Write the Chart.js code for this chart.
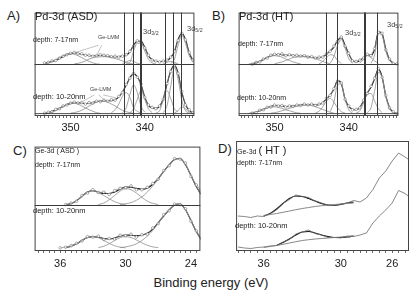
<!DOCTYPE html>
<html>
<head>
<meta charset="utf-8">
<script src="https://cdn.jsdelivr.net/npm/chart.js@4.4.0/dist/chart.umd.min.js"></script>
<style>
  html, body { margin: 0; padding: 0; background: #fff; }
  body { position: relative; width: 415px; height: 294px; overflow: hidden;
         font-family: "Liberation Sans", Arial, sans-serif; color: #222; }
  canvas { position: absolute; }
  .t { position: absolute; line-height: 1; white-space: nowrap; }
  .t sub { font-size: 0.7em; vertical-align: -0.25em; line-height: 0; }
</style>
</head>
<body>
<canvas id="pa" width="169" height="130" style="left:30px;top:8px"></canvas>
<canvas id="pb" width="169" height="130" style="left:234px;top:8px"></canvas>
<canvas id="pc" width="175" height="131" style="left:30px;top:142px"></canvas>
<canvas id="pd" width="175" height="132" style="left:234px;top:141px"></canvas>

<div class="t" style="left:7px;top:9px;font-size:13px">A)</div>
<div class="t" style="left:212px;top:9px;font-size:13px">B)</div>
<div class="t" style="left:13px;top:144px;font-size:13px">C)</div>
<div class="t" style="left:218px;top:142px;font-size:13px">D)</div>

<div class="t" style="left:35px;top:11px;font-size:11px">Pd-3d (ASD)</div>
<div class="t" style="left:33px;top:36px;font-size:7px">depth: 7-17nm</div>
<div class="t" style="left:33px;top:93px;font-size:7.5px">depth: 10-20nm</div>
<div class="t" style="left:143px;top:28px;font-size:7.5px;color:#444">3d<sub>3/2</sub></div>
<div class="t" style="left:187px;top:25px;font-size:7.5px;color:#444">3d<sub>5/2</sub></div>
<div class="t" style="left:98px;top:35px;font-size:5.5px;color:#444">Ge-LMM</div>
<div class="t" style="left:90px;top:87px;font-size:5.5px;color:#444">Ge-LMM</div>

<div class="t" style="left:239px;top:11px;font-size:11px">Pd-3d (HT)</div>
<div class="t" style="left:238px;top:40px;font-size:7px">depth: 7-17nm</div>
<div class="t" style="left:237px;top:94px;font-size:7px">depth: 10-20nm</div>
<div class="t" style="left:345px;top:29px;font-size:7.5px;color:#444">3d<sub>3/2</sub></div>
<div class="t" style="left:387px;top:21px;font-size:7.5px;color:#444">3d<sub>5/2</sub></div>

<div class="t" style="left:35px;top:147px;font-size:7px">Ge-3d ( ASD )</div>
<div class="t" style="left:35px;top:161px;font-size:7px">depth: 7-17nm</div>
<div class="t" style="left:33px;top:207px;font-size:7.5px">depth: 10-20nm</div>

<div class="t" style="left:237px;top:145px;font-size:7px">Ge-3d <span style="font-size:11px">( HT )</span></div>
<div class="t" style="left:237px;top:159px;font-size:7px">depth: 7-17nm</div>
<div class="t" style="left:235px;top:222px;font-size:7.5px">depth: 10-20nm</div>

<div class="t" style="left:0;width:422px;text-align:center;top:276px;font-size:13px">Binding energy (eV)</div>

<script>
// every series is [first energy in eV, values every 0.5 eV towards lower energy]
const STEP = 0.5;

const PD_RANGE = [333.3, 354.85];
const GE_ASD_RANGE = [23.13, 38.35];
const GE_HT_RANGE = [24.69, 38.15];

const PD_TICK_LABELS = [350, 340];
const GE_ASD_TICK_LABELS = [36, 30, 24];
const GE_HT_TICK_LABELS = [36, 30, 26];

// reference lines (eV, line width)
const A_LINES = [[342.75, 1], [341.55, 1], [340.5, 2], [337.2, 1], [336.15, 1], [335.1, 1]];
const B_LINES = [[343.0, 1], [341.45, 1], [337.75, 2], [336.1, 1]];

// ---- A) Pd-3d (ASD)
const A_TOP_DATA = [353.5, [1.5,2,3.5,4,6.5,8.5,10,11.5,12.5,11,11,9.5,9.5,8.5,9,10,9.5,9,8,8.5,7.5,8.5,10,13.5,19,24.5,23.5,17,9.5,4.5,3.5,2.5,3.5,4.5,7.5,13.5,25,32.5,25.5,12.5,4.5]];
const A_TOP_FIT = [353.5, [1,2,3,4,6,8,10,11,12,11.5,10.5,9.5,9,9,9,9.5,9,8.5,8,8,8,8.5,9.5,13,20,24,24,18,9,5,3,3,3,4,7,13,26,32,26,12,4]];
const A_TOP_PARTS = [
  [353.5, [0.5,1.5,3,5,7,9,10.5,11,10.5,9,7,5,3,1.5,0.5,0]],
  [349.5, [0.5,1,2,3.5,5.5,6.8,7.6,7.8,8,7.8,7,6,5,3.5,2,1,0.3]],
  [343, [0.5,2.5,4,3,1,0.3]],
  [342.5, [0.5,2,14,22,22,14,5,1.5,0.3]],
  [337.5, [0.5,2,3,2,0.5]],
  [336.5, [1,5,20,30,22,9,2]],
];
const A_BOT_DATA = [353.5, [0.5,1.5,2,4.5,5,8,9,11,12,11,11.5,10,11.5,11,13,12.5,14,13,14.5,14,18,22,30.5,37,42,38,31,17,9,6.5,5,8,15,31.5,44,51,42,23,9,4,1]];
const A_BOT_FIT = [353.5, [0,1,2.5,4,5.5,7.5,9.5,10.5,11.5,11.5,11,10.5,11,11.5,12.5,13,13.5,13.5,13.5,14.5,17.5,22.5,29.5,37.5,41.5,38.5,30.5,17.5,8.5,6,5.5,7.5,15.5,30.5,44.5,50.5,42.5,22.5,9.5,3.5,0.5]];
const A_BOT_PARTS = [
  [353, [0.5,1.5,3,5,7.5,9.5,11,11,10,8,6,4,2.5,1,0.3]],
  [350, [0.5,1,2,3.5,5.5,8,10,12,13,13,12,10,8,5.5,3.5,2,1,0.3]],
  [344.5, [1,4,10,18,22,17,6,2.5,0.5]],
  [343, [1,6,20,30,22,8,1.5]],
  [342, [1,5,15,24,15,5,1]],
  [338.5, [0.5,3,14,24,16,5,2]],
  [337.5, [1,8,28,48,36,14,3,0.5]],
  [336, [0.5,3,7,5,1.5,0.3]],
];
// Ge-LMM leader lines: [eV, value] -> [eV, value]
const A_TOP_LMM = [[[346.2, 74], [349.5, 66]], [[345.8, 74], [346.5, 63]]];
const A_BOT_LMM = [[[346.8, 22], [349.1, 12]], [[346.2, 22], [345.3, 16]], [[345.6, 22], [343.9, 19]]];

// ---- B) Pd-3d (HT)
const B_TOP_DATA = [353, [0,2,2.5,5.5,6.5,9.5,10.5,10,11,9,10,9,9.5,8.5,9,7.5,8,6.5,7.5,7.5,11,13.5,19,24,28.5,19,11.5,3.5,3,4.5,6.5,10.5,9,16.5,33.5,32.5,15,5.5,1,0.5]];
const B_TOP_FIT = [353, [0.5,1.5,3,5,7,9,10,10.5,10,9.5,9.5,9.5,9,9,8.5,8,7.5,7,7,8,10.5,14,18,25,28,20,11,4,2.5,4,7,10,9.5,16,34,32,16,5,1.5,0.5]];
const B_TOP_PARTS = [
  [353.5, [0.3,1,2,3.5,5.5,7.5,8.5,9,8.5,7.5,5.5,4,2.5,1.3,0.5]],
  [350, [0.5,1.5,2.5,4,5.5,7,7.5,8,8,7.5,7,6,4.5,3,1.5,0.5]],
  [344, [0.5,3,7,10,9,4,1]],
  [342.5, [1,8,20,26,17,6,1]],
  [338.5, [1,5,9,7,3.5,1]],
  [337, [1,10,32,30,14,4,0.5]],
];
const B_BOT_DATA = [353, [0.5,1,3.5,4,6.5,7,9,8,8.5,7,8,7.5,9,8.5,10,9,10,8.5,10,11,16,19,26,34,32,15,8,4,4.5,6,14,21,28.5,37,47,38,19,6,2,0]];
const B_BOT_FIT = [353, [0,1.5,3,4.5,6,7.5,8.5,8.5,8,7.5,7.5,8,8.5,9,9.5,9.5,9.5,9,9.5,11.5,15.5,19.5,25.5,34.5,31.5,15.5,7.5,4.5,4,6.5,13.5,21.5,27.5,36.5,46.5,38.5,18.5,6.5,1.5,0]];
const B_BOT_PARTS = [
  [353.5, [0.3,1,2,3,4.5,6,7,7,6.5,5.5,4,3,1.8,0.8,0.3]],
  [350.5, [0.5,1,1.8,3,4.2,5.5,6.8,7.6,8.3,8.7,8.7,8.3,7.2,5.8,4.3,2.8,1.4,0.5]],
  [344.5, [0.5,2.5,7,13,16,12,6,2,0.5]],
  [342.5, [2,12,30,31,15,4,0.5]],
  [339, [0.5,3,11,20,21,13,5,1]],
  [337.5, [1,6,24,43,38,18,5,1]],
];

// ---- C) Ge-3d (ASD)
const C_TOP_DATA = [35.5, [0.5,2,4,10,12.5,16,13,13.5,11,15,17.5,18,20,16,16,18.5,22.5,27,36,41,48.5,48,44,30,21,14]];
const C_TOP_FIT = [35.5, [0.3,1.5,4.5,9,13.5,15,13.5,12,12,13.5,16.5,18.8,18.5,17.5,16.5,17.5,21.7,27.6,35,42,47.5,48.5,42,31,19,10]];
const C_TOP_PARTS = [
  [35.5, [0.3,1.5,4.5,9,13.5,15,13,10,6.5,3.5,1.5,0.5]],
  [32.5, [0.5,2,5.5,10,14.5,17,16,12.5,8,4,1.7,0.6]],
  [30.5, [0.5,1.3,2.5,5,8.5,13.5,20,27,35,42,47.5,48.5,42,31,19,10]],
];
const C_BOT_DATA = [36, [0.3,1,2.5,5,7.5,12,11.5,12.5,9,10,9.5,13.5,13,14.5,11.5,14,14.5,21,25.5,35,39,46,45.5,41,28,18,9]];
const C_BOT_FIT = [35.5, [0.5,2,4.5,8,11,12,11.5,10,9.5,10.5,12.5,13.6,13.5,13,13.5,15.5,19.8,26.5,33.5,40,45,46,40,29,17,8]];
const C_BOT_PARTS = [
  [35.5, [0.5,2,4.5,8,11,12,11,8,5,2.5,1,0.3]],
  [32.5, [0.5,2,4.5,8,11,12,11,8.5,5.5,3,1.3,0.5]],
  [30.5, [0.5,1.3,2.5,4.5,8,12.5,18.5,26,33.5,40,45,46,40,29,17,8]],
];

// ---- D) Ge-3d (HT)
const D_TOP_DATA = [38, [34.5,34,33,34.5,34,37,40.5,47,51,55.5,54,53,49.5,47.5,45,45,46.5,47.5,50,48.5,52.5,61,72.5,79.5,89.5,97.5,93.5,89]];
const D_TOP_FIT = [36, [34.5,37,41.5,47,52,54.5,54,52,49.5,47,45.5,45,46,47.5,48.5]];
const D_TOP_BG = [36, [35,36,37,38.2,39.5,40.8,42,43,44,44.8,45.5,46,46.5,47,47.5]];
const D_BOT_DATA = [38, [3.5,2.5,2,3,3.5,4.5,5,8.5,11,16.5,18.5,20.5,17,15.5,13,13,12.5,14.5,14,15.5,17.5,27.5,34.5,40.5,47.5,60,57,52]];
const D_BOT_FIT = [35, [5,8,11.5,15.5,18.5,19,17.5,15.5,14,13,13,13.5,14.5]];
const D_BOT_BG = [36, [3,4,5,6.2,7.5,8.8,10,10.8,11.5,12,12.5,13,13.5,14,14.5]];

// ---------------------------------------------------------------------------

const STYLE = {
  part: { borderColor: '#8e8e8e', borderWidth: 0.8, pointRadius: 0, cubicInterpolationMode: 'monotone' },
  data: { borderColor: '#858585', borderWidth: 0.7, pointRadius: 1.3, pointBorderWidth: 0.6,
          pointBorderColor: '#777', pointBackgroundColor: '#fff', tension: 0 },
  fit:  { borderColor: '#111', borderWidth: 1.1, pointRadius: 0, cubicInterpolationMode: 'monotone' },
  raw:  { borderColor: '#6a6a6a', borderWidth: 0.8, pointRadius: 0, tension: 0 },
  bg:   { borderColor: '#7a7a7a', borderWidth: 0.9, pointRadius: 0, cubicInterpolationMode: 'monotone' },
  base: { borderColor: '#222', borderWidth: 0.8, pointRadius: 0, tension: 0 },
};

function pts([start, vals], offset) {
  return vals.map((v, i) => ({ x: start - i * STEP, y: v + offset }));
}

function spectrum(parts, data, fit, offset) {
  const sets = parts.map(p => ({ data: pts(p, offset), ...STYLE.part }));
  sets.push({ data: pts(data, offset), ...STYLE.data });
  sets.push({ data: pts(fit, offset), ...STYLE.fit });
  return sets;
}

function baseline(range, offset) {
  return { data: [{ x: range[1], y: offset }, { x: range[0], y: offset }], ...STYLE.base };
}

// frame, divider, reference lines and leader lines
const panelDeco = {
  id: 'panelDeco',
  afterDatasetsDraw(chart, args, opts) {
    const { ctx, chartArea: a, scales: { x, y } } = chart;
    ctx.save();
    ctx.strokeStyle = '#3a3a3a';
    (opts.lines || []).forEach(([e, w]) => {
      const px = w > 1 ? Math.round(x.getPixelForValue(e)) : Math.floor(x.getPixelForValue(e)) + 0.5;
      ctx.lineWidth = w;
      ctx.beginPath(); ctx.moveTo(px, a.top); ctx.lineTo(px, a.bottom); ctx.stroke();
    });
    if (opts.divider != null) {
      const py = Math.floor(y.getPixelForValue(opts.divider)) + 0.5;
      ctx.lineWidth = 1;
      ctx.beginPath(); ctx.moveTo(a.left, py); ctx.lineTo(a.right, py); ctx.stroke();
    }
    ctx.strokeStyle = '#9a9a9a';
    ctx.lineWidth = 0.6;
    (opts.leaders || []).forEach(([p, q]) => {
      ctx.beginPath();
      ctx.moveTo(x.getPixelForValue(p[0]), y.getPixelForValue(p[1]));
      ctx.lineTo(x.getPixelForValue(q[0]), y.getPixelForValue(q[1]));
      ctx.stroke();
    });
    ctx.strokeStyle = '#444';
    ctx.lineWidth = 1;
    ctx.strokeRect(a.left + 0.5, a.top + 0.5, a.width - 1, a.height - 1);
    ctx.restore();
  }
};

function makePanel(id, range, ymax, labels, pad, datasets, deco) {
  return new Chart(document.getElementById(id), {
    type: 'line',
    data: { datasets },
    plugins: [panelDeco],
    options: {
      responsive: false,
      animation: false,
      devicePixelRatio: 1,
      layout: { padding: 0 },
      plugins: { legend: { display: false }, tooltip: { enabled: false }, panelDeco: deco },
      scales: {
        x: {
          type: 'linear', reverse: true, min: range[0], max: range[1],
          afterFit: s => { s.height = 22; },
          border: { display: false },
          grid: { drawOnChartArea: false, tickLength: 2, color: '#444', lineWidth: 0.8 },
          ticks: {
            stepSize: 0.5, autoSkip: false, maxRotation: 0, includeBounds: false, padding: pad,
            color: '#222', font: { family: 'Liberation Sans', size: 11 },
            callback: v => labels.some(l => Math.abs(l - v) < 1e-6) ? String(Math.round(v)) : ''
          }
        },
        y: { display: false, min: 0, max: ymax }
      }
    }
  });
}

makePanel('pa', PD_RANGE, 108, PD_TICK_LABELS, 3, [
  baseline(PD_RANGE, 2.5),
  ...spectrum(A_BOT_PARTS, A_BOT_DATA, A_BOT_FIT, 2.5),
  ...spectrum(A_TOP_PARTS, A_TOP_DATA, A_TOP_FIT, 54),
], { lines: A_LINES, divider: 53.5, leaders: [...A_TOP_LMM, ...A_BOT_LMM] });

makePanel('pb', PD_RANGE, 108, PD_TICK_LABELS, 3, [
  baseline(PD_RANGE, 2.5),
  ...spectrum(B_BOT_PARTS, B_BOT_DATA, B_BOT_FIT, 2.5),
  ...spectrum(B_TOP_PARTS, B_TOP_DATA, B_TOP_FIT, 54),
], { lines: B_LINES, divider: 53.5 });

makePanel('pc', GE_ASD_RANGE, 109, GE_ASD_TICK_LABELS, 4, [
  ...spectrum(C_BOT_PARTS, C_BOT_DATA, C_BOT_FIT, 3),
  ...spectrum(C_TOP_PARTS, C_TOP_DATA, C_TOP_FIT, 48),
], { divider: 47.5 });

makePanel('pd', GE_HT_RANGE, 110, GE_HT_TICK_LABELS, 4, [
  { data: pts(D_TOP_BG, 0.5), ...STYLE.bg },
  { data: pts(D_TOP_DATA, 0.5), ...STYLE.raw },
  { data: pts(D_TOP_FIT, 0.5), ...STYLE.fit },
  { data: pts(D_BOT_BG, 0.5), ...STYLE.bg },
  { data: pts(D_BOT_DATA, 0.5), ...STYLE.raw },
  { data: pts(D_BOT_FIT, 0.5), ...STYLE.fit },
], {});
</script>
</body>
</html>
